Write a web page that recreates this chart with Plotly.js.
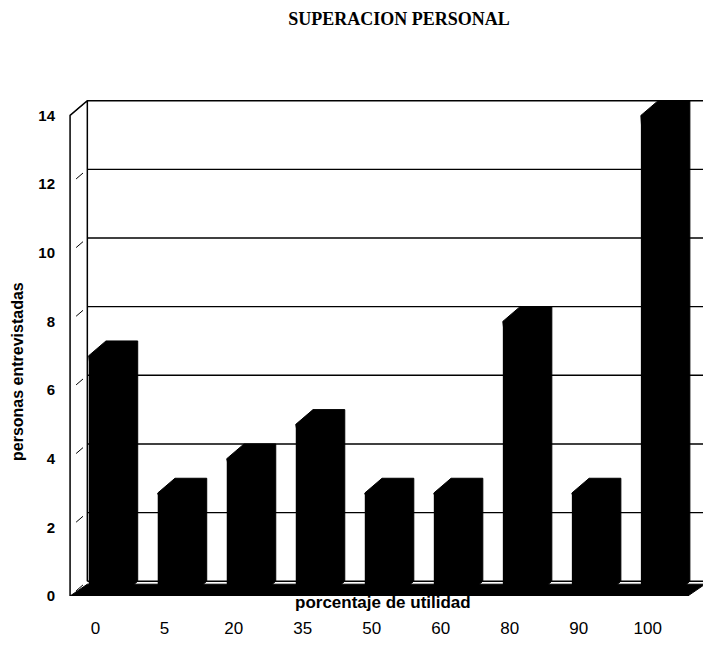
<!DOCTYPE html>
<html>
<head>
<meta charset="utf-8">
<script src="https://cdn.plot.ly/plotly-3.0.1.min.js"></script>
<style>html,body{margin:0;padding:0;background:#fff;}#chart{width:703px;height:647px;}</style>
</head>
<body>
<div id="chart"></div>
<script>
// Data
const categories = ["0", "5", "20", "35", "50", "60", "80", "90", "100"];
const personas = [7, 3, 4, 5, 3, 3, 8, 3, 14];
const yTicks = [0, 2, 4, 6, 8, 10, 12, 14];

const titleText = "SUPERACION PERSONAL";
const xTitleText = "porcentaje de utilidad";
const yTitleText = "personas entrevistadas";

// 3D look parameters (style only)
const barW = 0.46;   // front face width in category units
const dx = 0.25;     // depth offset in category units
const dy = 0.43;     // depth offset in value units
const xMin = -0.53, xMax = 8.67;
const yMax = 14.45;

const xIdx = categories.map((_, i) => i);

const shapes = [];
// back-wall grid lines
yTicks.forEach(v => {
  shapes.push({type: 'line', xref: 'x', yref: 'y', layer: 'below',
    x0: -0.5 + dx, x1: xMax, y0: v + dy, y1: v + dy,
    line: {color: '#000', width: 1.4}});
  // little diagonal marks on the left wall
  shapes.push({type: 'line', xref: 'x', yref: 'y', layer: 'below',
    x0: -0.5 + dx * 0.35, x1: -0.5 + dx * 0.75, y0: v + dy * 0.35, y1: v + dy * 0.75,
    line: {color: '#000', width: 1}});
});
// left wall outline
shapes.push({type: 'path', xref: 'x', yref: 'y', layer: 'below',
  path: `M ${-0.5} 0 L ${-0.5} 14 L ${-0.5 + dx} ${14 + dy} L ${-0.5 + dx} ${dy}`,
  line: {color: '#000', width: 1.5}});
// floor
shapes.push({type: 'path', xref: 'x', yref: 'y', layer: 'below',
  path: `M ${-0.5} 0 L ${8.45} 0 L ${8.45 + dx} ${dy * 0.8} L ${-0.5 + dx} ${dy * 0.8} Z`,
  fillcolor: '#000', line: {color: '#000', width: 1}});
// bar depth (side + top faces)
personas.forEach((v, i) => {
  const l = i - barW / 2, r = i + barW / 2;
  shapes.push({type: 'path', xref: 'x', yref: 'y', layer: 'below',
    path: `M ${r} 0 L ${r + dx} ${dy} L ${r + dx} ${v + dy} L ${l + dx} ${v + dy} L ${l} ${v} Z`,
    fillcolor: '#000', line: {color: '#000', width: 1}});
});

const data = [{
  type: 'bar',
  x: xIdx,
  y: personas,
  width: barW,
  marker: {color: '#000', line: {color: '#000', width: 0}},
  hoverinfo: 'x+y',
  showlegend: false
}];

const sans = 'Liberation Sans, Arial, sans-serif';

const layout = {
  width: 703, height: 647,
  margin: {l: 68, r: 0, t: 100, b: 51},
  paper_bgcolor: '#fff', plot_bgcolor: '#fff',
  showlegend: false,
  title: {
    text: titleText,
    font: {family: 'Liberation Serif, Times New Roman, serif', size: 18, color: '#000', weight: 'bold'},
    x: 399 / 703, xanchor: 'center', xref: 'container',
    y: 1 - 19 / 647, yanchor: 'middle', yref: 'container'
  },
  xaxis: {
    range: [xMin, xMax],
    tickvals: xIdx, ticktext: categories,
    showgrid: false, zeroline: false, showline: false, ticks: '',
    tickfont: {family: sans, size: 17, color: '#000'},
    ticklabelshift: -9,
    ticklabelstandoff: 20,
    fixedrange: true
  },
  yaxis: {
    range: [0, yMax],
    tickvals: yTicks,
    showgrid: false, zeroline: false, showline: false, ticks: '',
    tickfont: {family: sans, size: 15, color: '#000', weight: 'bold'},
    ticklabelstandoff: 12,
    fixedrange: true
  },
  shapes: shapes,
  annotations: [{
    text: xTitleText, showarrow: false,
    xref: 'paper', yref: 'paper',
    x: (383 - 68) / 635, y: (596 - 602) / 496,
    xanchor: 'center', yanchor: 'middle',
    font: {family: sans, size: 17, color: '#000', weight: 'bold'}
  }, {
    text: yTitleText, showarrow: false, textangle: -90,
    xref: 'paper', yref: 'paper',
    x: (17 - 68) / 635, y: (596 - 372) / 496,
    xanchor: 'center', yanchor: 'middle',
    font: {family: sans, size: 16, color: '#000', weight: 'bold'}
  }]
};

Plotly.newPlot('chart', data, layout, {displayModeBar: false, staticPlot: true});
</script>
</body>
</html>
